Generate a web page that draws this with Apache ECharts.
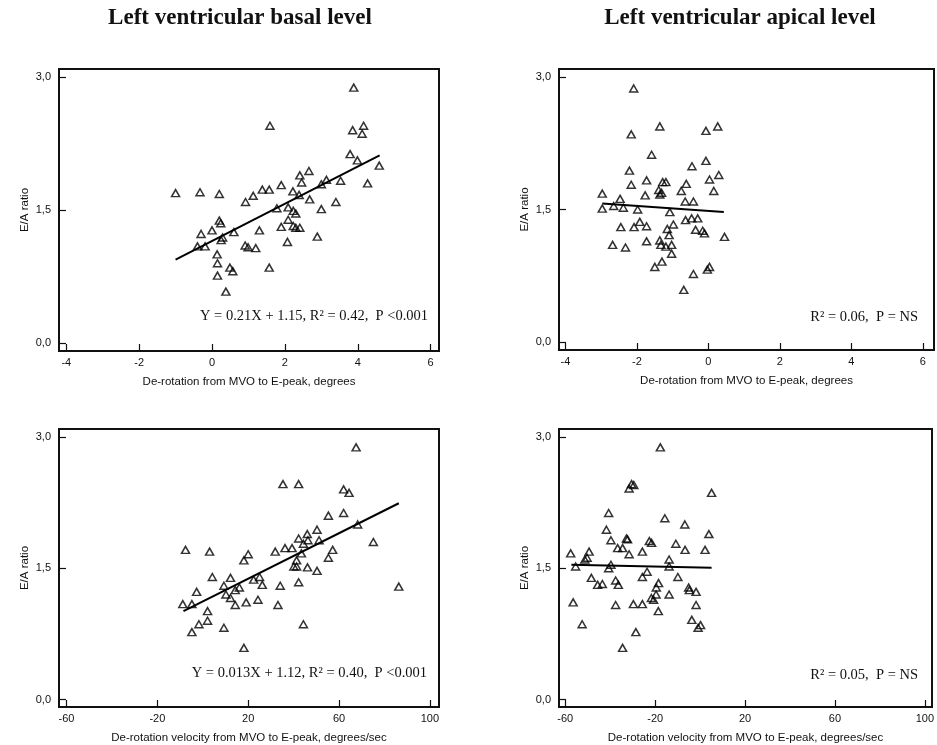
<!DOCTYPE html>
<html>
<head>
<meta charset="utf-8">
<title>E/A ratio vs LV de-rotation</title>
<script src="https://cdn.jsdelivr.net/npm/echarts@6/dist/echarts.min.js"></script>
<style>
  html, body { margin: 0; padding: 0; background: #ffffff; }
  #chart { width: 937px; height: 745px; }
</style>
</head>
<body>
<div id="chart"></div>
<script>
// ---- Data: [x, E/A ratio] pairs for each panel ----

// Basal level: de-rotation from MVO to E-peak (degrees)
const basalRotation = [
  [-1.00, 1.69], [-0.33, 1.70], [0.20, 1.68], [1.59, 2.45], [3.89, 2.88],
  [3.86, 2.40], [4.16, 2.45], [4.12, 2.36], [3.79, 2.13], [3.99, 2.06],
  [4.59, 2.00], [4.27, 1.80], [3.53, 1.83], [3.14, 1.84], [3.00, 1.79],
  [2.66, 1.94], [2.41, 1.89], [2.46, 1.81], [2.22, 1.71], [2.39, 1.67],
  [1.90, 1.78], [1.57, 1.73], [1.38, 1.73], [1.13, 1.66], [0.92, 1.59],
  [2.68, 1.62], [3.40, 1.59], [3.00, 1.51], [1.78, 1.52], [2.09, 1.53],
  [2.23, 1.49], [2.30, 1.46], [2.09, 1.39], [1.90, 1.31], [2.23, 1.32],
  [2.30, 1.30], [2.41, 1.30], [2.89, 1.20], [2.07, 1.14], [1.30, 1.27],
  [0.60, 1.25], [0.20, 1.38], [0.24, 1.35], [0.00, 1.27], [-0.30, 1.23],
  [0.29, 1.19], [0.25, 1.16], [-0.40, 1.09], [-0.19, 1.09], [0.91, 1.10],
  [0.99, 1.08], [1.20, 1.07], [0.14, 1.00], [0.15, 0.90], [0.15, 0.76],
  [0.49, 0.85], [0.57, 0.81], [1.57, 0.85], [0.38, 0.58]
];

// Apical level: de-rotation from MVO to E-peak (degrees)
const apicalRotation = [
  [-2.09, 2.87], [-1.36, 2.44], [-2.16, 2.35], [-0.07, 2.39], [0.26, 2.44],
  [-1.59, 2.12], [-0.07, 2.05], [-0.46, 1.99], [-2.21, 1.94], [0.29, 1.89],
  [0.03, 1.84], [-2.16, 1.78], [-1.73, 1.83], [-1.28, 1.81], [-1.19, 1.81],
  [-0.62, 1.79], [-1.39, 1.72], [-1.36, 1.67], [-1.31, 1.69], [-0.76, 1.71],
  [0.15, 1.71], [-2.97, 1.68], [-1.77, 1.66], [-2.47, 1.62], [-0.65, 1.59],
  [-0.42, 1.59], [-2.97, 1.51], [-2.65, 1.54], [-2.38, 1.52], [-1.98, 1.50],
  [-1.08, 1.47], [-1.92, 1.36], [-1.73, 1.31], [-2.45, 1.30], [-2.08, 1.30],
  [-0.98, 1.33], [-1.15, 1.28], [-0.64, 1.38], [-0.47, 1.40], [-0.30, 1.40],
  [-0.36, 1.27], [-0.16, 1.26], [-0.11, 1.23], [0.45, 1.19], [-1.10, 1.21],
  [-1.73, 1.14], [-1.36, 1.15], [-1.33, 1.10], [-1.19, 1.08], [-1.03, 1.10],
  [-1.03, 1.00], [-2.68, 1.10], [-2.32, 1.07], [-1.50, 0.85], [-1.30, 0.91],
  [0.03, 0.85], [-0.03, 0.82], [-0.42, 0.77], [-0.69, 0.59]
];

// Basal level: de-rotation velocity from MVO to E-peak (degrees/sec)
const basalVelocity = [
  [-8.8, 1.09], [-7.6, 1.71], [-4.8, 1.09], [-2.7, 1.23], [-4.8, 0.77],
  [-1.7, 0.86], [2.1, 1.01], [2.1, 0.90], [3.0, 1.69], [4.2, 1.40],
  [9.3, 0.82], [9.3, 1.30], [10.2, 1.20], [12.2, 1.16], [12.2, 1.39],
  [14.3, 1.25], [16.1, 1.28], [14.3, 1.08], [19.1, 1.11], [18.1, 1.59],
  [20.0, 1.66], [22.4, 1.37], [25.0, 1.40], [26.2, 1.31], [24.3, 1.14],
  [18.1, 0.59], [31.9, 1.69], [35.3, 2.46], [36.2, 1.73], [39.3, 1.73],
  [34.1, 1.30], [33.1, 1.08], [42.2, 2.46], [42.2, 1.84], [43.4, 1.67],
  [41.3, 1.59], [40.1, 1.52], [41.3, 1.52], [42.2, 1.34], [44.3, 1.78],
  [46.0, 1.89], [46.3, 1.82], [46.1, 1.51], [44.3, 0.86], [50.3, 1.94],
  [51.2, 1.82], [50.3, 1.47], [55.3, 2.10], [57.2, 1.71], [55.3, 1.62],
  [62.0, 2.40], [64.4, 2.36], [62.0, 2.13], [67.5, 2.88], [68.2, 2.00],
  [75.1, 1.80], [86.3, 1.29]
];

// Apical level: de-rotation velocity from MVO to E-peak (degrees/sec)
const apicalVelocity = [
  [-57.6, 1.67], [-56.5, 1.11], [-55.4, 1.52], [-52.5, 0.86], [-51.3, 1.60],
  [-50.3, 1.62], [-49.4, 1.69], [-48.4, 1.39], [-45.6, 1.31], [-43.5, 1.32],
  [-41.7, 1.94], [-40.7, 2.13], [-40.7, 1.50], [-39.7, 1.54], [-39.7, 1.82],
  [-37.6, 1.36], [-37.6, 1.08], [-36.7, 1.73], [-36.4, 1.31], [-34.5, 1.73],
  [-34.5, 0.59], [-32.8, 1.84], [-32.3, 1.83], [-31.6, 1.66], [-31.6, 2.41],
  [-30.5, 2.46], [-29.5, 2.45], [-29.7, 1.09], [-28.6, 0.77], [-25.7, 1.69],
  [-25.7, 1.40], [-25.7, 1.09], [-23.6, 1.46], [-22.6, 1.81], [-21.6, 1.79],
  [-21.7, 1.16], [-20.7, 1.14], [-19.6, 1.20], [-19.5, 1.28], [-18.5, 1.33],
  [-18.6, 1.01], [-17.7, 2.88], [-15.7, 2.07], [-13.8, 1.60], [-13.8, 1.52],
  [-13.8, 1.20], [-10.8, 1.78], [-9.9, 1.40], [-6.8, 2.00], [-6.7, 1.71],
  [-5.1, 1.28], [-4.8, 1.25], [-3.7, 0.91], [-1.8, 1.23], [-1.8, 1.08],
  [-0.9, 0.82], [0.2, 0.85], [2.2, 1.71], [3.9, 1.89], [5.1, 2.36]
];

// Regression lines: slope, intercept and the x span they are drawn over
const fitSlopes     = [0.21, -0.028, 0.013, -0.00056];
const fitIntercepts = [1.15, 1.485, 1.12, 1.507];
const fitFrom       = [-1.0, -2.97, -8.5, -57.3];
const fitTo         = [4.6, 0.43, 86.3, 5.1];

// Statistics printed in each panel
const statTexts = [
  'Y = 0.21X + 1.15, R\u00b2 = 0.42,  P <0.001',
  'R\u00b2 = 0.06,  P = NS',
  'Y = 0.013X + 1.12, R\u00b2 = 0.40,  P <0.001',
  'R\u00b2 = 0.05,  P = NS'
];

// Tick values
const rotationTicks = [-4, -2, 0, 2, 4, 6];
const velocityTicks = [-60, -20, 20, 60, 100];
const ratioTicks = [0, 1.5, 3];

const panelTitles = ['Left ventricular basal level', 'Left ventricular apical level'];
const rotationName = 'De-rotation from MVO to E-peak, degrees';
const velocityName = 'De-rotation velocity from MVO to E-peak, degrees/sec';
const ratioName = 'E/A ratio';

// ---- Layout ----
const INK = '#111111';
const SANS = '"Liberation Sans", Arial, sans-serif';
const SERIF = '"Liberation Serif", "Times New Roman", serif';

const grids = [
  { left: 59, top: 69, width: 380, height: 282 },
  { left: 559, top: 69, width: 375, height: 281 },
  { left: 59, top: 429, width: 380, height: 278 },
  { left: 559, top: 429, width: 376, height: 278 }
];
const xRanges = [[-4.2, 6.23], [-4.18, 6.31], [-63.3, 104], [-62.8, 103.2]];
const yRanges = [[-0.09, 3.09], [-0.09, 3.09], [-0.085, 3.09], [-0.085, 3.09]];
const xTickSets = [rotationTicks, rotationTicks, velocityTicks, velocityTicks];
const xNames = [rotationName, rotationName, velocityName, velocityName];
const panelData = [basalRotation, apicalRotation, basalVelocity, apicalVelocity];

function axisCommon(ticks) {
  return {
    type: 'value',
    axisLine: { show: true, onZero: false, lineStyle: { color: INK, width: 2 } },
    axisTick: { show: true, inside: true, length: 7, customValues: ticks,
                lineStyle: { color: INK, width: 1.2 } },
    splitLine: { show: false },
    nameLocation: 'middle',
    nameTextStyle: { fontFamily: SANS, fontSize: 11.5, color: INK }
  };
}

const xAxes = grids.map((g, i) => Object.assign(axisCommon(xTickSets[i]), {
  gridIndex: i,
  min: xRanges[i][0],
  max: xRanges[i][1],
  name: xNames[i],
  nameGap: 25,
  axisLabel: { customValues: xTickSets[i], margin: 6, fontFamily: SANS,
               fontSize: 11, color: INK }
}));

const yAxes = grids.map((g, i) => Object.assign(axisCommon(ratioTicks), {
  gridIndex: i,
  min: yRanges[i][0],
  max: yRanges[i][1],
  name: ratioName,
  nameGap: 28,
  nameRotate: 90,
  axisLabel: { customValues: ratioTicks, margin: 8, fontFamily: SANS,
               fontSize: 11, color: INK,
               formatter: v => v.toFixed(1).replace('.', ',') }
}));

const series = [];
panelData.forEach((pts, i) => {
  series.push({
    type: 'scatter',
    xAxisIndex: i,
    yAxisIndex: i,
    data: pts,
    symbol: 'triangle',
    symbolSize: [8, 7],
    itemStyle: { color: 'rgba(0,0,0,0)', borderColor: '#000000', borderWidth: 1.5 },
    emphasis: { disabled: true },
    z: 3
  });
  const fitLine = [fitFrom[i], fitTo[i]].map(x => [x, fitSlopes[i] * x + fitIntercepts[i]]);
  series.push({
    type: 'line',
    xAxisIndex: i,
    yAxisIndex: i,
    data: fitLine,
    showSymbol: false,
    lineStyle: { color: '#000000', width: 2 },
    emphasis: { disabled: true },
    z: 2
  });
});

// Panel headings and statistics text
const statAnchors = [[428, 316], [918, 317], [427, 673], [918, 675]];
const graphics = [
  { type: 'text', x: 240, y: 18, style: { text: panelTitles[0], fill: INK,
    font: 'bold 23px ' + SERIF, textAlign: 'center', align: 'center',
    textVerticalAlign: 'middle', verticalAlign: 'middle' } },
  { type: 'text', x: 740, y: 18, style: { text: panelTitles[1], fill: INK,
    font: 'bold 23px ' + SERIF, textAlign: 'center', align: 'center',
    textVerticalAlign: 'middle', verticalAlign: 'middle' } }
].concat(statTexts.map((t, i) => ({
  type: 'text', x: statAnchors[i][0], y: statAnchors[i][1], z: 10,
  style: { text: t, fill: INK, font: '14.5px ' + SERIF, textAlign: 'right', align: 'right',
           textVerticalAlign: 'middle', verticalAlign: 'middle' }
})));

const chart = echarts.init(document.getElementById('chart'), null, { renderer: 'canvas' });
chart.setOption({
  animation: false,
  backgroundColor: '#ffffff',
  grid: grids.map(g => Object.assign({ show: true, borderColor: INK, borderWidth: 2,
                                        backgroundColor: 'transparent' }, g)),
  xAxis: xAxes,
  yAxis: yAxes,
  series: series,
  graphic: graphics
});
</script>
</body>
</html>
